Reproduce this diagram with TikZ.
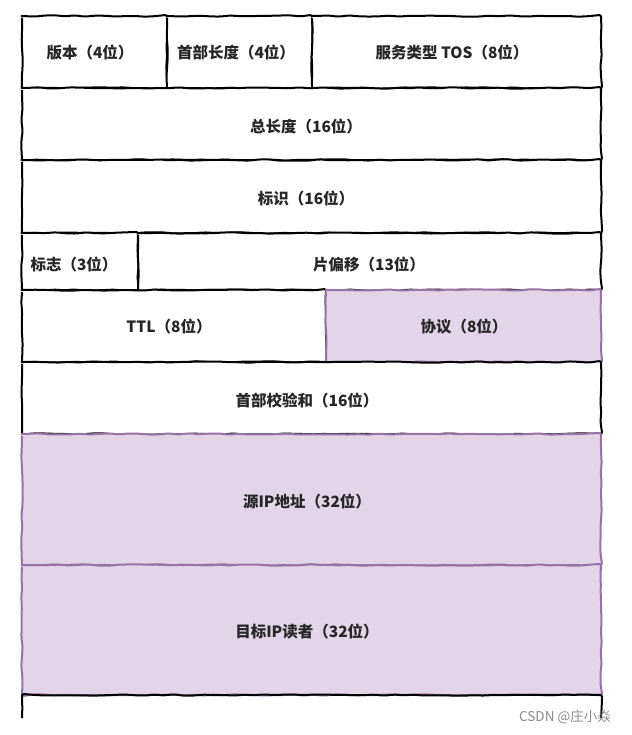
\documentclass[tikz,border=0pt]{standalone}
\usepackage{fontspec}
\newfontfamily\cjk{Noto Sans CJK SC}
\usetikzlibrary{decorations.pathmorphing}
\definecolor{pfill}{HTML}{E1D5E7}
\definecolor{pline}{HTML}{9673A6}
\begin{document}
\begin{tikzpicture}[x=1pt,y=-1pt,
  wob/.style={decorate,decoration={random steps,segment length=10pt,amplitude=0.7pt},rounded corners=2pt},
  cellw/.style={wob,draw=black,line width=2pt,fill=white},
  cellp/.style={wob,draw=pline,line width=2pt,fill=pfill},
  lbl/.style={font=\cjk\bfseries\fontsize{15.5}{18}\selectfont,text=black!85},
  wm/.style={font=\cjk\fontsize{13.5}{16}\selectfont,text=black!45}]
\pgfmathsetseed{7}
\useasboundingbox (0,0) rectangle (631,735);
\fill[white] (0,0) rectangle (631,735);
% row 1
\path[cellw] (22,16) rectangle (167,88);
\path[cellw] (167,16) rectangle (312,88);
\path[cellw] (312,16) rectangle (601,88);
\node[lbl] (ver) at (90,53) {版本（4位）};
\node[lbl] (ihl) at (236,53) {首部长度（4位）};
\node[lbl] (tos) at (452,53) {服务类型 TOS（8位）};
% row 2
\path[cellw] (22,88) rectangle (601,160);
\node[lbl] (len) at (306,127) {总长度（16位）};
% row 3
\path[cellw] (22,160) rectangle (601,233);
\node[lbl] (id) at (306,199) {标识（16位）};
% row 4
\path[cellw] (22,233) rectangle (138,290);
\path[cellw] (138,233) rectangle (601,290);
\node[lbl] (flag) at (74,265) {标志（3位）};
\node[lbl] (frag) at (369,265) {片偏移（13位）};
% row 5
\path[cellw] (22,290) rectangle (326,362);
\node[lbl] (ttl) at (169,327) {TTL（8位）};
\path[cellp] (326,290) rectangle (601,362);
\node[lbl] (proto) at (464,327) {协议（8位）};
% row 6
\path[cellw] (22,362) rectangle (601,434);
\node[lbl] (csum) at (307,401) {首部校验和（16位）};
% row 7, 8
\path[cellp] (22,434) rectangle (601,565);
\node[lbl] (src) at (307,502) {源IP地址（32位）};
\path[cellp] (22,565) rectangle (601,695);
\node[lbl] (dst) at (307,632) {目标IP读者（32位）};
% open bottom
\draw[wob,black,line width=2pt] (22,718) -- (22,695) -- (601,695) -- (601,718);
\node[wm] (mark) at (565,717) {CSDN @庄小焱};
\end{tikzpicture}
\end{document}
